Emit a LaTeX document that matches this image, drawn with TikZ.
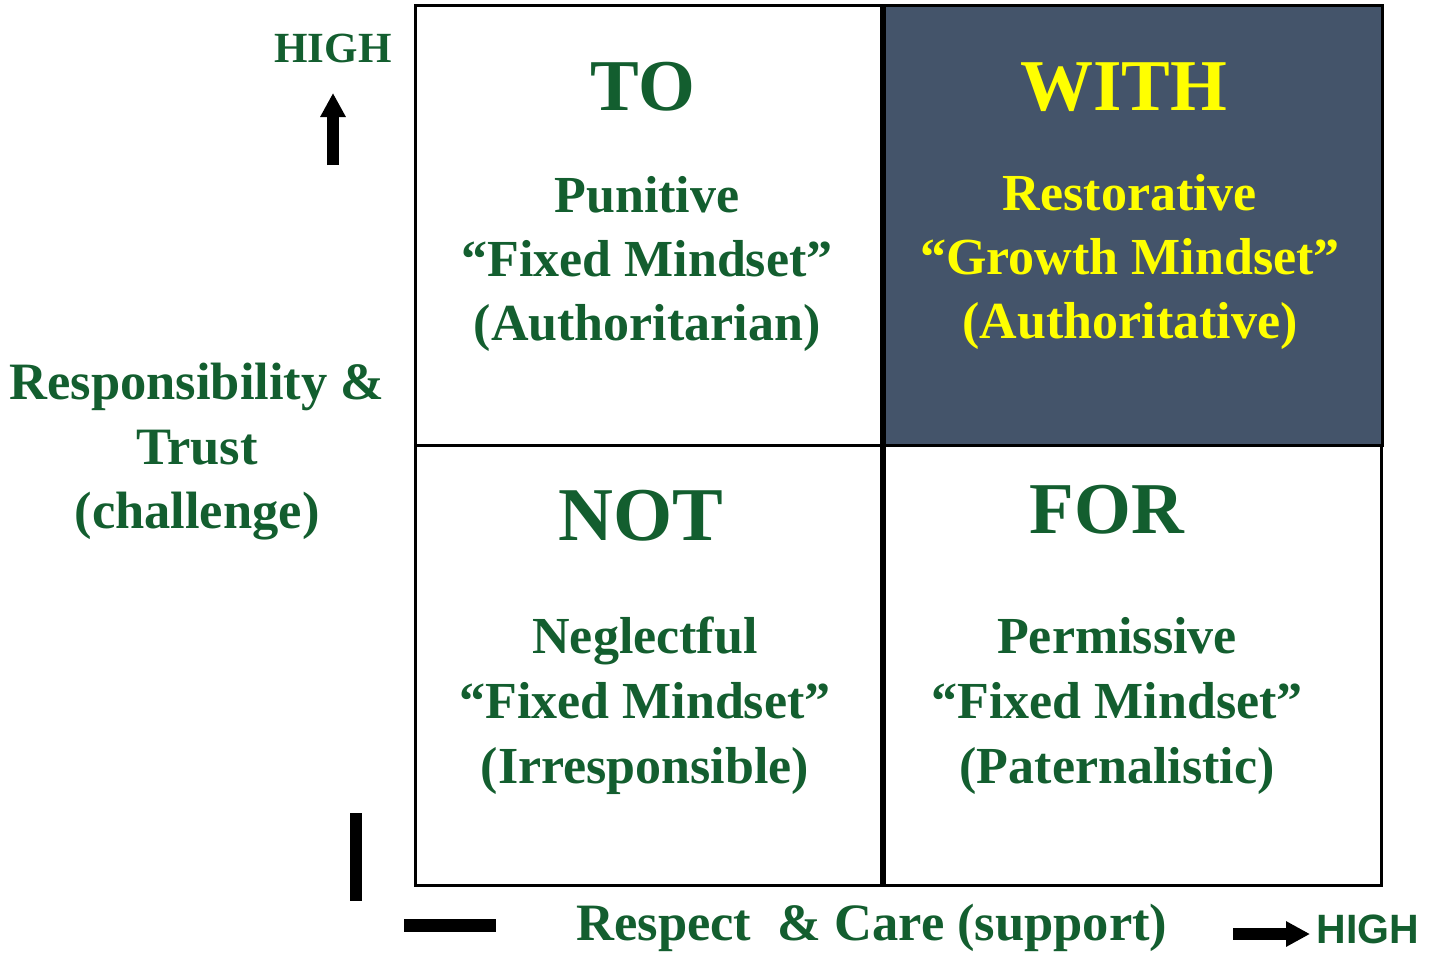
\documentclass[tikz,border=0pt]{standalone}
\usepackage{fontspec}
\setmainfont{Liberation Serif}
\setsansfont{Liberation Sans}
\usetikzlibrary{arrows.meta}
\definecolor{leafgreen}{RGB}{19,94,47}
\definecolor{slate}{RGB}{68,84,106}
\definecolor{brightyellow}{RGB}{255,255,0}
\tikzset{
  cell/.style={draw,line width=3pt,inner sep=0pt},
  title/.style={anchor=base,text=leafgreen,font=\fontsize{73}{80}\selectfont\bfseries},
  body/.style={anchor=base,text=leafgreen,font=\fontsize{52}{64}\selectfont\bfseries},
  axislbl/.style={anchor=base,text=leafgreen,font=\fontsize{52.5}{64}\selectfont\bfseries},
  fatarrow/.style={line width=12pt,-{Triangle[length=24pt,width=24pt]}},
}
\begin{document}
\begin{tikzpicture}[x=1pt,y=-1pt]
        \useasboundingbox (0,0) rectangle (1431,959);
        %% Cells
        \node[cell,minimum width=466.5pt,minimum height=440pt] (tocell) at (648.25,225) {};
        \node[cell,minimum width=497.5pt,minimum height=440pt,fill=slate] (withcell) at (1133.25,225) {};
        \node[cell,minimum width=466.5pt,minimum height=440pt] (notcell) at (648.25,665) {};
        \node[cell,minimum width=496.5pt,minimum height=440pt] (forcell) at (1132.75,665) {};
        %% TO
        \node[title] (tohead) at (643,110) {TO};
        \node[body] (to1) at (647,212) {Punitive};
        \node[body] (to2) at (647,276) {“Fixed Mindset”};
        \node[body] (to3) at (647,340) {(Authoritarian)};
        %% WITH
        \node[title,text=brightyellow] (withhead) at (1124,110) {WITH};
        \node[body,text=brightyellow] (with1) at (1130,210) {Restorative};
        \node[body,text=brightyellow] (with2) at (1130,274) {“Growth Mindset”};
        \node[body,text=brightyellow] (with3) at (1130,338) {(Authoritative)};
        %% NOT
        \node[title,font=\fontsize{76}{80}\selectfont\bfseries] (nothead) at (641,540) {NOT};
        \node[body] (not1) at (645,653) {Neglectful};
        \node[body] (not2) at (645,718) {“Fixed Mindset”};
        \node[body] (not3) at (645,783) {(Irresponsible)};
        %% FOR
        \node[title] (forhead) at (1107,533) {FOR};
        \node[body] (for1) at (1117,653) {Permissive};
        \node[body] (for2) at (1117,718) {“Fixed Mindset”};
        \node[body] (for3) at (1117,783) {(Paternalistic)};
        %% Axis labels
        \node[axislbl] (resp1) at (197,399) {Responsibility \&};
        \node[axislbl] (resp2) at (197,464) {Trust};
        \node[axislbl] (resp3) at (197,528) {(challenge)};
        \node[axislbl] (care) at (872,940) {Respect\ \ \& Care (support)};
        \node[anchor=base,text=leafgreen,font=\fontsize{43}{50}\selectfont\bfseries] (highup) at (333,62) {HIGH};
        \node[anchor=base,text=leafgreen,font=\fontsize{41}{48}\selectfont\sffamily\bfseries] (highright) at (1368,943) {HIGH};
        %% Arrows and low marks
        \coordinate (upfoot) at (333,165);
        \coordinate (uptip) at (333,93);
        \coordinate (rightfoot) at (1233,934);
        \coordinate (righttip) at (1310,934);
        \draw[fatarrow] (upfoot) -- (uptip);
        \draw[fatarrow] (rightfoot) -- (righttip);
        \coordinate (lowvtop) at (356,813);
        \coordinate (lowvbot) at (356,901);
        \coordinate (lowhleft) at (404,925.5);
        \coordinate (lowhright) at (496,925.5);
        \draw[line width=12pt] (lowvtop) -- (lowvbot);
        \draw[line width=13pt] (lowhleft) -- (lowhright);
    \end{tikzpicture}
\end{document}
